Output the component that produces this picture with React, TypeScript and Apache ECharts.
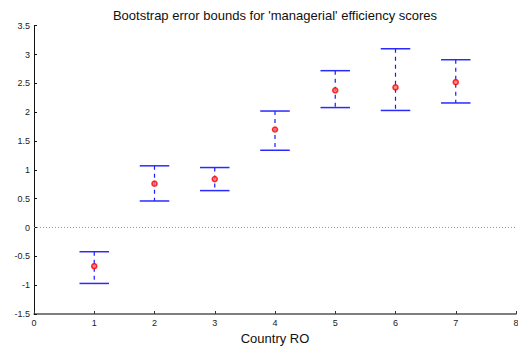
import React, { useEffect, useRef } from "react";
import * as echarts from "echarts";

const countries = [1, 2, 3, 4, 5, 6, 7];
const estimates = [-0.67, 0.76, 0.84, 1.7, 2.38, 2.43, 2.52];
const lowerBounds = [-0.97, 0.46, 0.64, 1.34, 2.08, 2.03, 2.16];
const upperBounds = [-0.42, 1.07, 1.04, 2.02, 2.72, 3.1, 2.91];
const titleText = "Bootstrap error bounds for 'managerial' efficiency scores";
const xLabel = "Country RO";

export default function App() {
  const ref = useRef<HTMLDivElement>(null);
  useEffect(() => {
    document.body.style.margin = "0";
    const chart = echarts.init(ref.current!, null, { renderer: "svg" });
    const font = "Liberation Sans, Arial, Helvetica, sans-serif";
    const capHalf = 0.245;
    chart.setOption({
      animation: false,
      backgroundColor: "#ffffff",
      textStyle: { fontFamily: font },
      title: {
        text: titleText,
        left: 270,
        textAlign: "center",
        top: 4,
        textStyle: { fontSize: 13, fontWeight: "normal", color: "#111", fontFamily: font },
      },
      grid: { left: 34, right: 2, top: 25.7, bottom: 33, outerBoundsMode: "none", containLabel: false },
      xAxis: {
        type: "value",
        min: 0,
        max: 8,
        interval: 1,
        name: xLabel,
        nameLocation: "middle",
        nameGap: 13,
        nameTextStyle: { fontSize: 13, color: "#111", fontFamily: font },
        axisLine: { onZero: false, lineStyle: { color: "#555", width: 1.5 } },
        axisTick: { inside: true, length: 3, lineStyle: { color: "#333" } },
        axisLabel: { fontSize: 9, color: "#222", margin: 4, fontFamily: font, hideOverlap: false },
        splitLine: { show: false },
      },
      yAxis: {
        type: "value",
        min: -1.5,
        max: 3.5,
        interval: 0.5,
        axisLine: { show: true, onZero: false, lineStyle: { color: "#111", width: 1 } },
        axisTick: { show: true, inside: true, length: 3, lineStyle: { color: "#111" } },
        axisLabel: { fontSize: 9, color: "#222", margin: 4, fontFamily: font },
        splitLine: { show: false },
      },
      series: [
        {
          type: "line",
          data: [
            [0, 0],
            [8, 0],
          ],
          symbol: "none",
          lineStyle: { color: "#999", width: 1, type: [1, 2] },
          z: 1,
        },
        {
          type: "custom",
          data: countries.map((c, i) => [c, lowerBounds[i], upperBounds[i]]),
          renderItem: (params: any, api: any) => {
            const x = api.value(0);
            const lo = api.value(1);
            const hi = api.value(2);
            const pHi = api.coord([x, hi]);
            const pLo = api.coord([x, lo]);
            const half = api.size([capHalf * 2, 0])[0] / 2;
            const capStyle = { stroke: "#2a2aff", lineWidth: 1.5 };
            return {
              type: "group",
              children: [
                {
                  type: "line",
                  shape: { x1: pHi[0], y1: pHi[1], x2: pLo[0], y2: pLo[1] },
                  style: { stroke: "#1a1aff", lineWidth: 1.2, lineDash: [4, 4] },
                },
                {
                  type: "line",
                  shape: { x1: pHi[0] - half, y1: pHi[1], x2: pHi[0] + half, y2: pHi[1] },
                  style: capStyle,
                },
                {
                  type: "line",
                  shape: { x1: pLo[0] - half, y1: pLo[1], x2: pLo[0] + half, y2: pLo[1] },
                  style: capStyle,
                },
              ],
            };
          },
          z: 2,
        },
        {
          type: "scatter",
          data: countries.map((c, i) => [c, estimates[i]]),
          symbol: "circle",
          symbolSize: 5,
          itemStyle: { color: "#ff7070", borderColor: "#ff0000", borderWidth: 1.6 },
          z: 3,
        },
      ],
    });
    return () => chart.dispose();
  }, []);
  return (
    <div
      ref={ref}
      style={{ position: "absolute", left: 0, top: 0, width: 518, height: 347 }}
    />
  );
}
